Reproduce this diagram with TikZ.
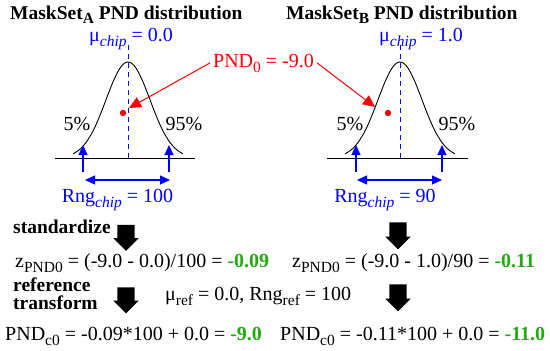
\documentclass[tikz,border=0pt]{standalone}
\usepackage{fontspec}
\setmainfont{Liberation Serif}
\usetikzlibrary{arrows.meta, shapes.arrows}
\definecolor{cblue}{HTML}{0000FF}
\definecolor{cred}{HTML}{FF0000}
\definecolor{cgreen}{HTML}{22AA11}
\newcommand\lowtxt[1]{\raisebox{-0.25em}{\fontsize{15.5}{15}\selectfont #1}}
\newcommand\hilite[1]{\textcolor{cgreen}{\textbf{#1}}}
\tikzset{
  every picture/.style={font=\fontsize{20}{22}\selectfont},
  txt/.style={inner sep=0pt, anchor=base west},
  ctxt/.style={inner sep=0pt, anchor=base},
  head/.style={txt, font=\fontsize{19.5}{18}\selectfont\bfseries},
  curve/.style={draw=black, line width=0.9pt},
  meanline/.style={draw=cblue, dash pattern=on 5pt off 4pt, line width=1pt},
  pointer/.style={draw=cred, line width=1pt, -{Triangle[length=12pt, width=11pt]}},
  rngarrow/.style={draw=cblue, line width=1.2pt, -{Triangle[length=10pt, width=9pt]}},
  spanarrow/.style={draw=cblue, line width=1.2pt, {Triangle[length=10pt, width=9pt]}-{Triangle[length=10pt, width=9pt]}},
  blockarrow/.style={single arrow, shape border rotate=270, fill=black, minimum height=#1, inner sep=8.5pt, single arrow head extend=4pt, single arrow tip angle=90},
  blockarrow/.default=23pt,
}

\begin{document}
\begin{tikzpicture}[x=1pt, y=1pt]
  \useasboundingbox (0,0) rectangle (550,-351);
  % titles
  \node[head] (titleA) at (10,-19) {MaskSet\lowtxt{A} PND distribution};
  \node[head] (titleB) at (286,-19) {MaskSet\lowtxt{B} PND distribution};
  % left distribution
  \draw[curve] (55,-158) -- (195,-158);
  \draw[curve] plot[domain=-55:55, samples=60, smooth] ({128+\x},{-158+96*exp(-(\x*\x)/968)});
  \draw[meanline] (128,-45) -- (128,-158);
  \node[ctxt, text=cblue] (muA) at (131,-41) {μ\lowtxt{\itshape chip} = 0.0};
  \node[ctxt] (loA) at (77,-130) {5\%};
  \node[ctxt] (hiA) at (184,-130) {95\%};
  \fill[cred] (123,-113) circle (3.2pt);
  \coordinate (tipA) at (129,-108);
  % right distribution
  \draw[curve] (327,-158) -- (468,-158);
  \draw[curve] plot[domain=-55:55, samples=60, smooth] ({400+\x},{-158+96*exp(-(\x*\x)/968)});
  \draw[meanline] (400,-45) -- (400,-158);
  \node[ctxt, text=cblue] (muB) at (421,-41) {μ\lowtxt{\itshape chip} = 1.0};
  \node[ctxt] (loB) at (350,-130) {5\%};
  \node[ctxt] (hiB) at (457,-130) {95\%};
  \fill[cred] (388,-113) circle (3.2pt);
  \coordinate (tipB) at (375,-107);
  % common PND value
  \node[ctxt, text=cred] (pnd) at (263.5,-67) {PND\lowtxt{0} = -9.0};
  \draw[pointer] ([xshift=-3pt]pnd.west) -- (tipA);
  \draw[pointer] ([xshift=3pt]pnd.east) -- (tipB);
  % ranges
  \coordinate (lowA) at (83,-172); \coordinate (lowAtop) at (83,-145);
  \coordinate (highA) at (169,-172); \coordinate (highAtop) at (169,-145);
  \draw[rngarrow] (lowA) -- (lowAtop); \draw[rngarrow] (highA) -- (highAtop);
  \coordinate (spanAl) at (85,-180); \coordinate (spanAr) at (170,-180);
  \draw[spanarrow] (spanAl) -- (spanAr);
  \node[ctxt, text=cblue] (rngA) at (117.5,-202) {Rng\lowtxt{\itshape chip} = 100};
  \coordinate (lowB) at (356,-172); \coordinate (lowBtop) at (356,-145);
  \coordinate (highB) at (442,-172); \coordinate (highBtop) at (442,-145);
  \draw[rngarrow] (lowB) -- (lowBtop); \draw[rngarrow] (highB) -- (highBtop);
  \coordinate (spanBl) at (357,-180); \coordinate (spanBr) at (442,-180);
  \draw[spanarrow] (spanBl) -- (spanBr);
  \node[ctxt, text=cblue] (rngB) at (385,-202) {Rng\lowtxt{\itshape chip} = 90};
  % standardize step
  \node[head] (std) at (13,-233) {standardize};
  \node[blockarrow] (downA1) at (126,-233.5) {};
  \node[blockarrow=27pt] (downB1) at (398,-231.5) {};
  \node[txt] (zA) at (15,-267) {z\lowtxt{PND0} = (-9.0 - 0.0)/100 = \hilite{-0.09}};
  \node[txt] (zB) at (292,-267) {z\lowtxt{PND0} = (-9.0 - 1.0)/90 = \hilite{-0.11}};
  % reference transform step
  \node[head, align=left, anchor=north west] (reftrf) at (13,-278) {reference\\transform};
  \node[blockarrow=22pt] (downA2) at (126,-296) {};
  \node[blockarrow=27pt] (downB2) at (398,-293.5) {};
  \node[txt] (refvals) at (165,-300) {μ\lowtxt{ref} = 0.0, Rng\lowtxt{ref} = 100};
  \node[txt] (pndA) at (5,-340) {PND\lowtxt{c0} = -0.09*100 + 0.0 = \hilite{-9.0}};
  \node[txt] (pndB) at (280,-340) {PND\lowtxt{c0} = -0.11*100 + 0.0 = \hilite{-11.0}};
\end{tikzpicture}
\end{document}
